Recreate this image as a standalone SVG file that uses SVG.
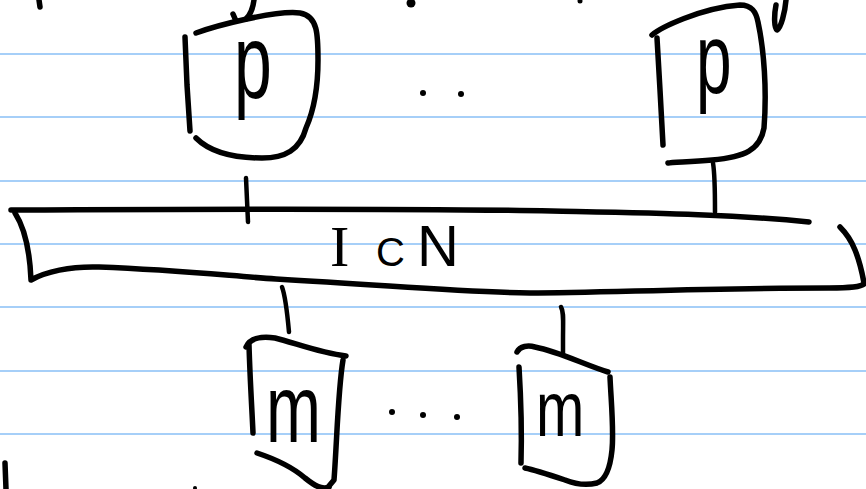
<svg xmlns="http://www.w3.org/2000/svg" width="866" height="489" viewBox="0 0 866 489">
<style>
.rule{stroke:#a6cff8;stroke-width:2;fill:none}
.ink{stroke:#000;stroke-width:5.5;fill:none;stroke-linecap:round;stroke-linejoin:round}
.thin{stroke:#000;stroke-width:4.5;fill:none;stroke-linecap:round;stroke-linejoin:round}
.lbl{font-family:"Liberation Sans",Arial,sans-serif;fill:#000}
</style>
<rect width="866" height="489" fill="#fff"/>
<g id="ruling">
<line class="rule" x1="0" y1="54" x2="866" y2="54"/>
<line class="rule" x1="0" y1="117" x2="866" y2="117"/>
<line class="rule" x1="0" y1="181" x2="866" y2="181"/>
<line class="rule" x1="0" y1="244" x2="866" y2="244"/>
<line class="rule" x1="0" y1="307" x2="866" y2="307"/>
<line class="rule" x1="0" y1="371" x2="866" y2="371"/>
<line class="rule" x1="0" y1="434" x2="866" y2="434"/>
</g>
<g id="marks">
<path class="ink" d="M39,0 L40,7"/>
<path class="ink" d="M254,0 C253,8 250,15 246,19 M233,14 L236,21"/>
<circle cx="411" cy="3" r="4.5"/>
<circle cx="580" cy="1" r="2.5"/>
<path class="ink" d="M786,0 C785,12 781,28 777,30 C774,28 774,15 776,5"/>
<path class="ink" d="M5,463 L6,489"/>
<circle cx="195" cy="488" r="2"/>
</g>
<g id="p1">
<path class="ink" d="M185,37 L187,85 L190,131"/>
<path class="ink" d="M196,33 C215,26 275,10 300,13 C318,16 318,35 318,60 C318,85 314,110 306,128 C300,150 285,158 262,158 C232,158 210,152 196,138"/>
<text class="lbl" font-size="68" transform="translate(234,98) scale(1,1.55)">p</text>
</g>
<g id="p2">
<path class="ink" d="M657,38 L660,90 L663,145"/>
<path class="ink" d="M652,35 C660,28 700,8 740,5 C752,5 756,12 758,22 C764,50 767,90 764,128 C760,150 745,157 712,160 C690,162 672,162 668,163"/>
<text class="lbl" font-size="64" transform="translate(696,93) scale(1,1.55)">p</text>
</g>
<g id="dots">
<circle cx="423" cy="93" r="3"/>
<circle cx="461" cy="94" r="3"/>
<circle cx="392" cy="412" r="3"/>
<circle cx="423" cy="415" r="3"/>
<circle cx="457" cy="417" r="3"/>
</g>
<g id="icn">
<path class="ink" d="M11,210 C200,209 450,209 552,211 C650,213 730,214 809,222"/>
<path class="ink" d="M15,213 C26,230 30,255 31,280 C45,272 70,266 99,267 C180,270 230,276 276,279 C400,286 460,292 530,293 C600,293 700,288 829,288 C850,288 862,287 865,283"/>
<path class="ink" d="M840,227 C845,232 851,240 855,250 C860,262 862,272 864,283"/>
<text class="lbl" font-size="58" y="266"><tspan x="330" font-family="Liberation Serif,serif">I</tspan><tspan x="376" font-size="40">C</tspan><tspan x="417">N</tspan></text>
</g>
<g id="m1">
<path class="ink" d="M249,345 C250,380 252,410 253,433"/>
<path class="ink" d="M246,347 C250,338 262,336 275,338 C295,343 320,353 346,356 M343,360 C338,390 337,440 334,480 L329,486"/>
<path class="ink" d="M257,453 C272,458 290,465 305,478 C315,486 322,490 329,487"/>
<text class="lbl" font-size="66" transform="translate(266,442) scale(1,1.45)">m</text>
</g>
<g id="m2">
<path class="ink" d="M519,367 C521,400 522,430 521,463"/>
<path class="ink" d="M517,352 C520,346 528,345 535,347 C560,352 585,365 608,372"/>
<path class="ink" d="M610,377 C611,400 614,430 612,450 C610,470 605,480 597,483 C585,486 575,484 565,480 C550,475 535,470 525,468"/>
<text class="lbl" font-size="58" transform="translate(536,436) scale(1,1.35)">m</text>
</g>
<g id="connectors">
<path class="thin" d="M246,178 L248,222"/>
<path class="thin" d="M713,163 C715,175 715,195 715,212"/>
<path class="thin" d="M282,287 C285,295 287,310 289,332"/>
<path class="thin" d="M561,307 C564,312 563,320 563,340 L563,355"/>
</g>
</svg>
